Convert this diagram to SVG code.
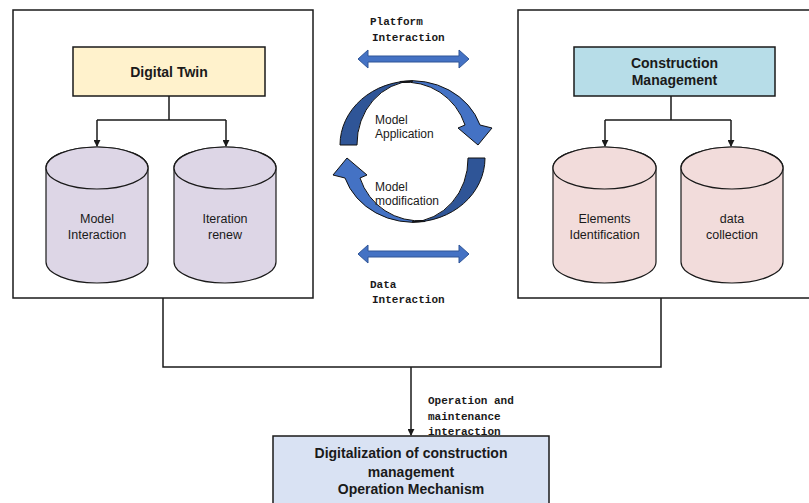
<svg xmlns="http://www.w3.org/2000/svg" width="809" height="503" viewBox="0 0 809 503">
  <style>
    .frame { fill: #ffffff; stroke: #1a1a1a; stroke-width: 1.5; }
    .box { stroke: #1a1a1a; stroke-width: 1.5; }
    .cyl { stroke: #1a1a1a; stroke-width: 1.2; }
    .wire { fill: none; stroke: #1a1a1a; stroke-width: 1.5; }
    .head { font-family: "Liberation Sans", Arial, sans-serif; font-size: 14px; font-weight: bold; fill: #1a1a1a; text-anchor: middle; }
    .cyltext { font-family: "Liberation Sans", Arial, sans-serif; font-size: 12.5px; fill: #1a1a1a; text-anchor: middle; }
    .cycle { font-family: "Liberation Sans", Arial, sans-serif; font-size: 12px; fill: #1a1a1a; }
    .mono { font-family: "Liberation Mono", "Courier New", monospace; font-size: 11px; font-weight: bold; fill: #1a1a1a; }
    .ribbon-light { fill: #4472C4; stroke: #111; stroke-width: 1; stroke-linejoin: round; }
    .ribbon-dark { fill: #2F5597; stroke: #111; stroke-width: 1; stroke-linejoin: round; }
    .dbl { fill: #4472C4; stroke: #2F5597; stroke-width: 1; }
  </style>
  <defs>
    <marker id="tip" viewBox="0 0 8 8" refX="7" refY="4" markerWidth="7" markerHeight="7" markerUnits="userSpaceOnUse" orient="auto">
      <path d="M0,0 L8,4 L0,8 Z" fill="#1a1a1a"/>
    </marker>
    <!-- one half of the circular cycle: ribbon with arrowhead -->
    <g id="half-cycle">
      <path class="ribbon-light" d="M400,81.5 A72,64 0 0 1 480,125 L492,128 L478,145 L458,128 L465,125 A62,62 0 0 0 400,82.5 Z"/>
      <path class="ribbon-dark" d="M340,145 A72,64 0 0 1 413,81 A58,63 0 0 0 357,145 Z"/>
    </g>
    <path id="dbl-arrow" d="M0,0 L10,-9 L10,-3 L101,-3 L101,-9 L111,0 L101,9 L101,3 L10,3 L10,9 Z"/>
  </defs>

  <rect width="809" height="503" fill="#ffffff"/>

  <!-- Digital Twin side -->
  <g id="digital-twin-frame">
    <rect class="frame" x="13" y="10" width="300" height="288"/>
  </g>
  <g id="digital-twin">
    <rect class="box" x="73" y="47" width="192" height="49" fill="#FFF2CC"/>
    <text class="head" x="169" y="77">Digital Twin</text>
  </g>
  <g id="model-interaction">
    <path class="cyl" fill="#DDD6E6" d="M46,168 L46,262 A51,21 0 0 0 148,262 L148,168 A51,21 0 0 0 46,168 Z"/>
    <ellipse class="cyl" cx="97" cy="168" rx="51" ry="21" fill="#DDD6E6"/>
    <text class="cyltext" x="97" y="223">Model</text>
    <text class="cyltext" x="97" y="239">Interaction</text>
  </g>
  <g id="iteration-renew">
    <path class="cyl" fill="#DDD6E6" d="M174,168 L174,262 A51,21 0 0 0 276,262 L276,168 A51,21 0 0 0 174,168 Z"/>
    <ellipse class="cyl" cx="225" cy="168" rx="51" ry="21" fill="#DDD6E6"/>
    <text class="cyltext" x="225" y="223">Iteration</text>
    <text class="cyltext" x="225" y="239">renew</text>
  </g>

  <!-- Construction Management side -->
  <g id="construction-frame">
    <rect class="frame" x="518" y="10" width="300" height="288"/>
  </g>
  <g id="construction-management">
    <rect class="box" x="574" y="47" width="201" height="49" fill="#B7DDE8"/>
    <text class="head" x="674.5" y="68">Construction</text>
    <text class="head" x="674.5" y="85">Management</text>
  </g>
  <g id="elements-identification">
    <path class="cyl" fill="#F2DCDB" d="M553,168 L553,262 A51.5,21 0 0 0 656,262 L656,168 A51.5,21 0 0 0 553,168 Z"/>
    <ellipse class="cyl" cx="604.5" cy="168" rx="51.5" ry="21" fill="#F2DCDB"/>
    <text class="cyltext" x="604.5" y="223">Elements</text>
    <text class="cyltext" x="604.5" y="239">Identification</text>
  </g>
  <g id="data-collection">
    <path class="cyl" fill="#F2DCDB" d="M681,168 L681,262 A51,21 0 0 0 783,262 L783,168 A51,21 0 0 0 681,168 Z"/>
    <ellipse class="cyl" cx="732" cy="168" rx="51" ry="21" fill="#F2DCDB"/>
    <text class="cyltext" x="732" y="223">data</text>
    <text class="cyltext" x="732" y="239">collection</text>
  </g>

  <!-- Central cycle -->
  <g id="model-cycle">
    <use href="#half-cycle"/>
    <use href="#half-cycle" transform="rotate(180 412.5 151.5)"/>
    <text class="cycle" x="375" y="124">Model</text>
    <text class="cycle" x="375" y="138">Application</text>
    <text class="cycle" x="375" y="191">Model</text>
    <text class="cycle" x="375" y="205">modification</text>
  </g>

  <g id="platform-interaction">
    <use href="#dbl-arrow" class="dbl" transform="translate(358 59)"/>
    <text class="mono" x="370" y="25">Platform</text>
    <text class="mono" x="372" y="41">Interaction</text>
  </g>
  <g id="data-interaction">
    <use href="#dbl-arrow" class="dbl" transform="translate(358 254)"/>
    <text class="mono" x="370" y="288">Data</text>
    <text class="mono" x="372" y="303">Interaction</text>
  </g>

  <!-- Bottom mechanism -->
  <g id="operation-mechanism">
    <rect class="box" x="273" y="436" width="276" height="80" fill="#D9E2F3"/>
    <text class="head" x="411" y="458">Digitalization of construction</text>
    <text class="head" x="411" y="477">management</text>
    <text class="head" x="411" y="494">Operation Mechanism</text>
  </g>

  <!-- Connectors -->
  <g id="connectors">
    <path class="wire" d="M169,96 V120 M97,120 H226"/>
    <path class="wire" d="M97,120 V146" marker-end="url(#tip)"/>
    <path class="wire" d="M226,120 V146" marker-end="url(#tip)"/>
    <path class="wire" d="M671,96 V120 M605,120 H731"/>
    <path class="wire" d="M605,120 V146" marker-end="url(#tip)"/>
    <path class="wire" d="M731,120 V146" marker-end="url(#tip)"/>
    <path class="wire" d="M163,298 V367 H661 V298"/>
    <path class="wire" d="M411,367 V435" marker-end="url(#tip)"/>
    <text class="mono" x="428" y="404">Operation and</text>
    <text class="mono" x="428" y="420">maintenance</text>
    <text class="mono" x="428" y="435">interaction</text>
  </g>
</svg>
